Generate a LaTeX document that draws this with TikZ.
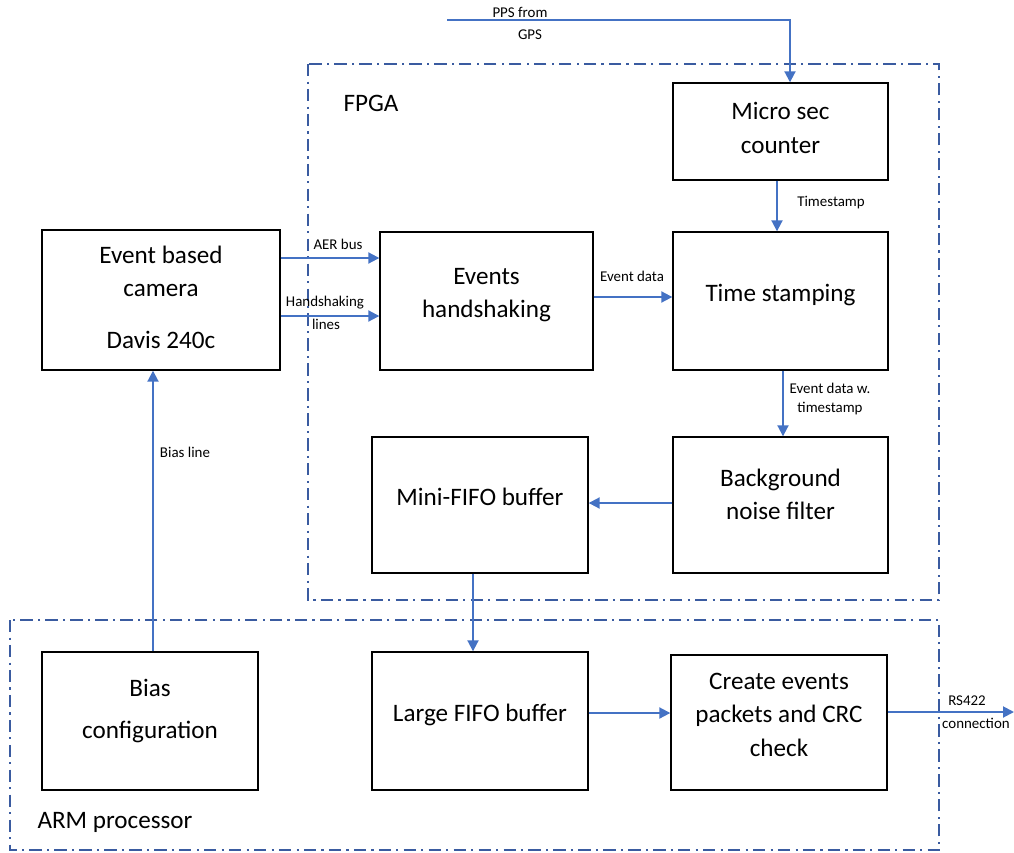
\documentclass[tikz,border=0pt]{standalone}
\usepackage{fontspec}
\setmainfont{Carlito}
\usetikzlibrary{arrows.meta}
\definecolor{linkBlue}{HTML}{4472C4}
\definecolor{frameBlue}{HTML}{3A5BA0}
\tikzset{
    blockbox/.style={draw=black, line width=0.8pt, fill=white, align=center, font=\fontsize{14.3}{19}\selectfont, inner sep=2pt, text depth=9pt},
    conn/.style={-{Triangle[length=2.2mm, width=2.2mm]}, draw=linkBlue, line width=1.1pt},
    frame/.style={draw=frameBlue, line width=1.1pt, dash pattern=on 7pt off 3pt on 1.2pt off 3pt},
    framelbl/.style={font=\fontsize{14.3}{17}\selectfont},
    lbl/.style={font=\fontsize{8.5}{11}\selectfont, align=center, inner sep=1pt}
}
\begin{document}
\begin{tikzpicture}[x=0.02cm, y=-0.02cm, line cap=butt, line join=miter]
    \useasboundingbox (0,0) rectangle (1014,852);

    \draw[frame] (308,64) rectangle (939,600);
    \draw[frame] (10,620) rectangle (939,850);
    \node[framelbl] (fpga) at (371,103) {FPGA};
    \node[framelbl] (arm) at (115,822) {ARM processor};

    \node[blockbox, minimum width=4.76cm, minimum height=2.8cm, text depth=3pt] (cam) at (161,300) {Event based\\camera\\[0.38cm]Davis 240c};
    \node[blockbox, minimum width=4.26cm, minimum height=2.76cm] (hand) at (486.5,301) {Events\\handshaking};
    \node[blockbox, minimum width=4.3cm, minimum height=1.94cm, text depth=4pt] (micro) at (780.5,131.5) {Micro sec\\counter};
    \node[blockbox, minimum width=4.3cm, minimum height=2.76cm] (tstamp) at (780.5,301) {Time stamping};
    \node[blockbox, minimum width=4.3cm, minimum height=2.72cm, text depth=12pt] (noise) at (780.5,505) {Background\\noise filter};
    \node[blockbox, minimum width=4.32cm, minimum height=2.72cm] (mini) at (480,505) {Mini-FIFO buffer};
    \node[blockbox, minimum width=4.32cm, minimum height=2.76cm, text depth=14pt] (bias) at (150,721) {Bias\\[0.16cm]configuration};
    \node[blockbox, minimum width=4.32cm, minimum height=2.76cm] (large) at (480,721) {Large FIFO buffer};
    \node[blockbox, minimum width=4.32cm, minimum height=2.7cm] (crc) at (779,722.5) {Create events\\packets and CRC\\check};

    \coordinate (ppsin) at (447,20);
    \coordinate (rsout) at (1014,712);

    \draw[conn] (ppsin) -| (micro.north -| 790,0);
    \draw[conn] (micro.south -| 777,0) -- (tstamp.north -| 777,0);
    \draw[conn] (cam.east |- 0,258) -- (hand.west |- 0,258);
    \draw[conn] (cam.east |- 0,316) -- (hand.west |- 0,316);
    \draw[conn] (hand.east |- 0,297) -- (tstamp.west |- 0,297);
    \draw[conn] (tstamp.south -| 783,0) -- (noise.north -| 783,0);
    \draw[conn] (noise.west |- 0,503) -- (mini.east |- 0,503);
    \draw[conn] (mini.south -| 473,0) -- (large.north -| 473,0);
    \draw[conn] (large.east |- 0,713) -- (crc.west |- 0,713);
    \draw[conn] (crc.east |- 0,712) -- (rsout);
    \draw[conn] (bias.north -| 153,0) -- (cam.south -| 153,0);

    \node[lbl] (ppsa) at (520,12) {PPS from};
    \node[lbl] (ppsb) at (530,35) {GPS};
    \node[lbl] (tsl) at (831,203) {Timestamp};
    \node[lbl] (aerl) at (338,244) {AER bus};
    \node[lbl] (hsa) at (325,303) {Handshaking};
    \node[lbl] (hsb) at (326,324) {lines};
    \node[lbl] (edl) at (632,276) {Event data};
    \node[lbl] (edwa) at (830,388) {Event data w.};
    \node[lbl] (edwb) at (830,409) {timestamp};
    \node[lbl] (rsa) at (967,701) {RS422};
    \node[lbl] (rsb) at (976,723) {connection};
    \node[lbl] (biasl) at (185,452) {Bias line};
\end{tikzpicture}
\end{document}
